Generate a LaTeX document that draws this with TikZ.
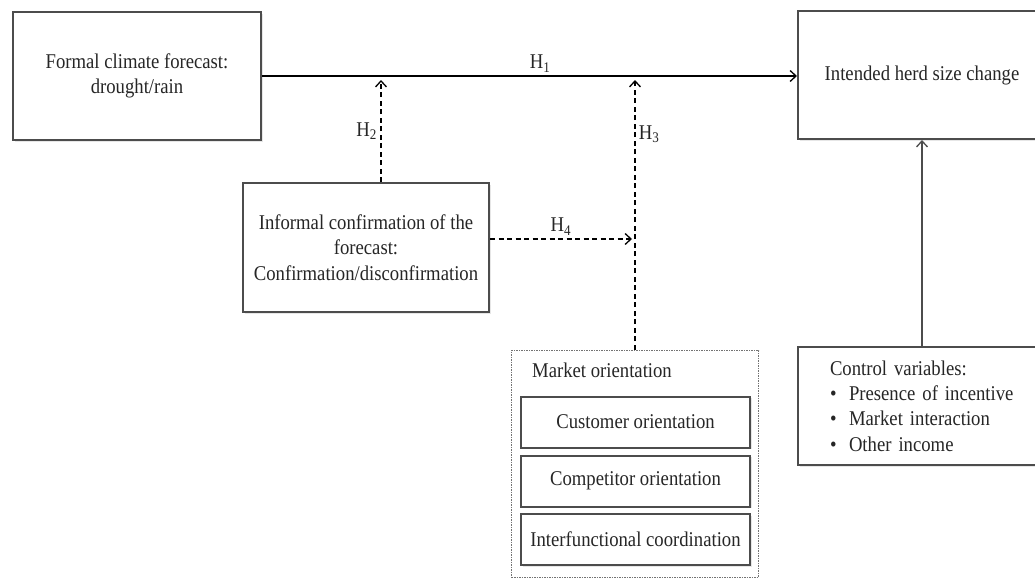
\documentclass[tikz,border=0pt]{standalone}
\usepackage{fontspec}
\setmainfont{Liberation Serif}[FakeStretch=0.89]
\usetikzlibrary{arrows.meta,shadows}

\begin{document}
\begin{tikzpicture}[x=1pt,y=-1pt,font=\fontsize{21}{25.3}\selectfont,text=black!85,
	box/.style={draw=black!70, line width=2pt, fill=white, align=center, inner sep=0pt,
		minimum width=248pt, minimum height=128pt,
		drop shadow={shadow xshift=1.5pt, shadow yshift=-1.5pt, opacity=0.2}},
	subbox/.style={box, minimum width=229pt, minimum height=51pt},
	link/.style={line width=1.3pt, -{Straight Barb[length=6pt,width=11pt]}},
	dlink/.style={link, dash pattern=on 5pt off 3.5pt}]
	\useasboundingbox (0,0) rectangle (1035,579);
	\clip (0,0) rectangle (1035,579);

	% main boxes
	\node[box] (formal) at (137,76) {Formal climate forecast:\\drought/rain};
	\node[box] (intended) at (922,75) {Intended herd size change};
	\node[box, minimum width=246pt, minimum height=129pt] (informal) at (366,247.5)
		{Informal confirmation of the\\forecast:\\Confirmation/disconfirmation};
	\node[box, minimum height=118pt, align=left, text width=184pt, inner xsep=32pt] (control) at (922,406)
		{Control variables:\\
		\makebox[19pt][l]{\textbullet}Presence of incentive\\
		\makebox[19pt][l]{\textbullet}Market interaction\\
		\makebox[19pt][l]{\textbullet}Other income};

	% market orientation group
	\node[draw=black!55, line width=0.9pt, dash pattern=on 1.5pt off 1pt,
		minimum width=247pt, minimum height=227pt] (market) at (635,463.5) {};
	\node (mktlabel) at (602,370) {Market orientation};
	\node[subbox] (customer) at (635.5,422) {Customer orientation};
	\node[subbox] (competitor) at (635.5,481) {Competitor orientation};
	\node[subbox] (interfunc) at (635.5,539.5) {Interfunctional coordination};

	% hypotheses
	\coordinate (h2top) at (381,80);
	\coordinate (h4end) at (632,239);
	\draw[link] (formal.east) -- node[above, pos=0.52] (h1) {H\textsubscript{1}} (formal.east -| intended.west);
	\draw[dlink] (informal.north -| h2top) -- node[left] (h2) {H\textsubscript{2}} (h2top);
	\draw[dlink] (market.north) -- node[right, pos=0.8] (h3) {H\textsubscript{3}} (market.north |- h2top);
	\draw[dlink] (informal.east |- h4end) -- node[above] (h4) {H\textsubscript{4}} (h4end);
	\draw[link, draw=black!70] (control.north) -- (control.north |- intended.south);
\end{tikzpicture}
\end{document}
